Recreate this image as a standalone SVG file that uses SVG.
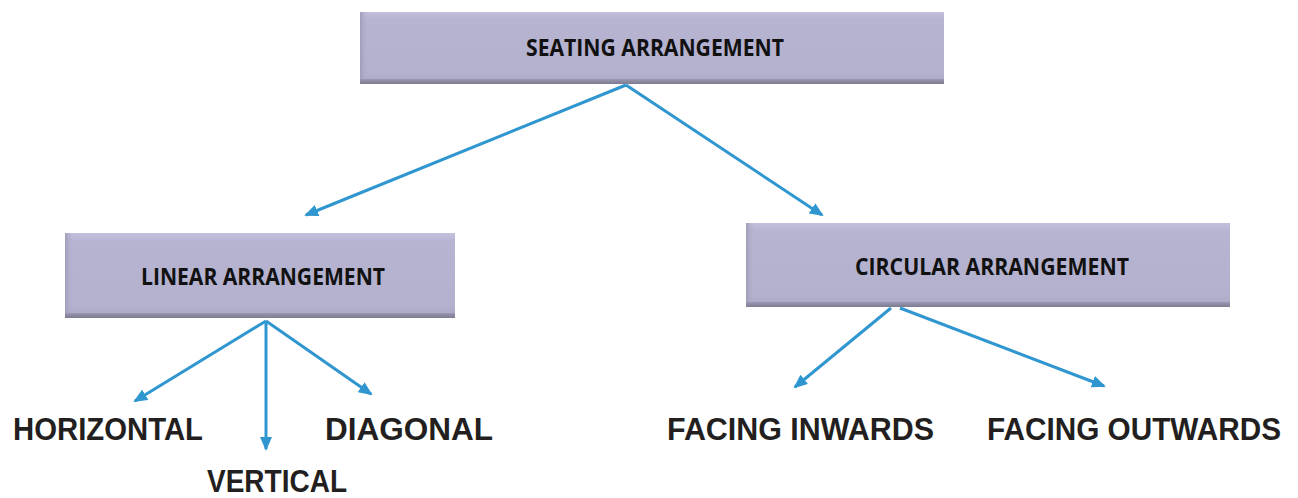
<svg xmlns="http://www.w3.org/2000/svg" width="1298" height="498" viewBox="0 0 1298 498">
<style>
.box{fill:url(#face)}
.edgeB{fill:url(#bot)}
.lbl{font-family:"Open Sans","Liberation Sans",sans-serif;font-weight:bold;font-size:23px;fill:#111;text-anchor:middle}
.leaf{font-family:"Liberation Sans","DejaVu Sans",sans-serif;font-weight:bold;font-size:31px;fill:#231f20}
.conn{stroke:#2f96d0;stroke-width:3;fill:none;marker-end:url(#ah)}
</style>
<defs>
<linearGradient id="face" x1="0" y1="0" x2="0" y2="1">
<stop offset="0" stop-color="#c2c0db"/>
<stop offset="0.1" stop-color="#b6b4d1"/>
<stop offset="0.85" stop-color="#b3b1cd"/>
<stop offset="1" stop-color="#a9a7c2"/>
</linearGradient>
<linearGradient id="bot" x1="0" y1="0" x2="0" y2="1">
<stop offset="0" stop-color="#9a98b2"/>
<stop offset="1" stop-color="#7d7b90"/>
</linearGradient>
<linearGradient id="side" x1="0" y1="0" x2="1" y2="0">
<stop offset="0" stop-color="#9f9db8"/>
<stop offset="1" stop-color="#b3b1cd" stop-opacity="0"/>
</linearGradient>
<marker id="ah" markerWidth="14" markerHeight="12" refX="12" refY="6" orient="auto" markerUnits="userSpaceOnUse">
<path d="M0,0 L14,6 L0,12 Z" fill="#2f96d0"/>
</marker>
</defs>
<g id="connectors">
<line class="conn" x1="626" y1="85" x2="306" y2="215"/>
<line class="conn" x1="626" y1="85" x2="822" y2="215"/>
<line class="conn" x1="266" y1="321" x2="135" y2="401"/>
<line class="conn" x1="266" y1="321" x2="266" y2="449"/>
<line class="conn" x1="266" y1="321" x2="371" y2="394"/>
<line class="conn" x1="891" y1="308" x2="795" y2="387"/>
<line class="conn" x1="900" y1="308" x2="1104" y2="386"/>
</g>
<g id="seating">
<rect class="box" x="360" y="12" width="584" height="72"/>
<rect x="360" y="12" width="8" height="72" fill="url(#side)"/>
<rect class="edgeB" x="360" y="79" width="584" height="5"/>
<text class="lbl" x="655" y="56" textLength="258" lengthAdjust="spacingAndGlyphs">SEATING ARRANGEMENT</text>
</g>
<g id="linear">
<rect class="box" x="65" y="233" width="390" height="85"/>
<rect x="65" y="233" width="8" height="85" fill="url(#side)"/>
<rect class="edgeB" x="65" y="313" width="390" height="5"/>
<text class="lbl" x="263" y="285" textLength="244" lengthAdjust="spacingAndGlyphs">LINEAR ARRANGEMENT</text>
</g>
<g id="circular">
<rect class="box" x="746" y="223" width="484" height="84"/>
<rect x="746" y="223" width="8" height="84" fill="url(#side)"/>
<rect class="edgeB" x="746" y="302" width="484" height="5"/>
<text class="lbl" x="992" y="275" textLength="274" lengthAdjust="spacingAndGlyphs">CIRCULAR ARRANGEMENT</text>
</g>
<g id="horizontal"><text class="leaf" x="13" y="440" textLength="190" lengthAdjust="spacingAndGlyphs">HORIZONTAL</text></g>
<g id="vertical"><text class="leaf" x="207" y="492" textLength="140" lengthAdjust="spacingAndGlyphs">VERTICAL</text></g>
<g id="diagonal"><text class="leaf" x="325" y="440" textLength="168" lengthAdjust="spacingAndGlyphs">DIAGONAL</text></g>
<g id="inwards"><text class="leaf" x="667" y="440" textLength="267" lengthAdjust="spacingAndGlyphs">FACING INWARDS</text></g>
<g id="outwards"><text class="leaf" x="987" y="440" textLength="294" lengthAdjust="spacingAndGlyphs">FACING OUTWARDS</text></g>
</svg>
